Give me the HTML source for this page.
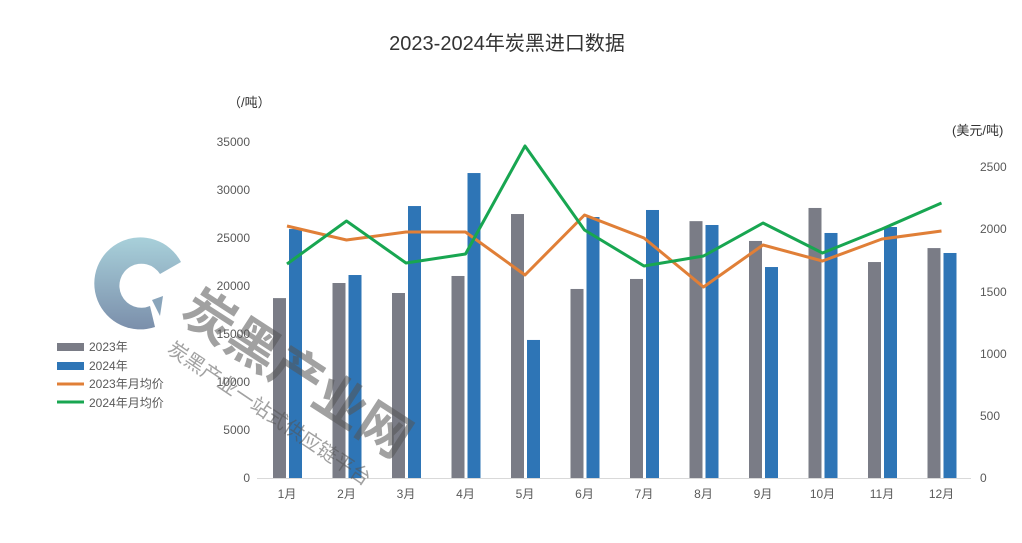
<!DOCTYPE html>
<html><head><meta charset="utf-8"><style>
body{margin:0;background:#fff;}
svg text{font-family:"Liberation Sans","Noto Sans CJK SC",sans-serif;}
</style></head><body>
<svg width="1022" height="538" viewBox="0 0 1022 538" xmlns="http://www.w3.org/2000/svg">
<rect width="1022" height="538" fill="#fff"/>
<text x="507" y="50" font-size="20" fill="#333" text-anchor="middle">2023-2024年炭黑进口数据</text>
<text x="228" y="107" font-size="13" fill="#333">（/吨）</text>
<text x="952" y="135" font-size="13" fill="#333">(美元/吨)</text>
<g font-size="12" fill="#595959" text-anchor="end">
<text x="250" y="482">0</text><text x="250" y="434">5000</text><text x="250" y="386">10000</text><text x="250" y="338">15000</text><text x="250" y="290">20000</text><text x="250" y="242">25000</text><text x="250" y="194">30000</text><text x="250" y="146">35000</text>
</g>
<g font-size="12" fill="#595959">
<text x="980" y="482">0</text><text x="980" y="420">500</text><text x="980" y="358">1000</text><text x="980" y="296">1500</text><text x="980" y="233">2000</text><text x="980" y="171">2500</text>
</g>
<line x1="257" y1="478.5" x2="971" y2="478.5" stroke="#d9d9d9"/>
<!-- logo -->
<defs><linearGradient id="gc" x1="0" y1="0" x2="0" y2="1"><stop offset="0" stop-color="#a8d0da"/><stop offset="1" stop-color="#7b8fab"/></linearGradient></defs>
<path d="M181,262 A46,46 0 1 0 155,327 L150,306 A22,22 0 1 1 160,274 Z" fill="url(#gc)"/>
<path d="M152,300 L163,296 L160,316 Z" fill="#8aa5bb"/>
<g id="bars"></g>
<g font-size="12" fill="#595959" text-anchor="middle" id="xl"></g>
<polyline id="lo" fill="none" stroke="#E07F37" stroke-width="3" stroke-linejoin="round"/>
<polyline id="lg" fill="none" stroke="#18A651" stroke-width="3" stroke-linejoin="round"/>
<!-- legend -->
<rect x="57" y="343" width="27" height="8" fill="#7a7c86"/>
<text x="89" y="351" font-size="12" fill="#595959">2023年</text>
<rect x="57" y="362" width="27" height="8" fill="#2e75b6"/>
<text x="89" y="370" font-size="12" fill="#595959">2024年</text>
<line x1="57" y1="384" x2="84" y2="384" stroke="#E07F37" stroke-width="3"/>
<text x="89" y="388" font-size="12" fill="#595959">2023年月均价</text>
<line x1="57" y1="402" x2="84" y2="402" stroke="#18A651" stroke-width="3"/>
<text x="89" y="407" font-size="12" fill="#595959">2024年月均价</text>
<!-- watermark -->
<g opacity="0.55" fill="#555">
<text x="0" y="0" font-size="52" font-weight="bold" transform="translate(178,318) rotate(33)">炭黑产业网</text>
<text x="0" y="0" font-size="20" transform="translate(166,352) rotate(34)">炭黑产业一站式供应链平台</text>
</g>
<script>
var g23=[18700,20270,19230,21000,27440,19650,20690,26700,24640,28070,22450,23900];
var g24=[25880,21100,28270,31700,14350,27130,27860,26300,21930,25470,26090,23390];
var o=[226,240,232,232,275,215,238,287,245,261,239,231];
var gr=[264,221,263,254,146,230,266,256,223,253,229,203];
var ns="http://www.w3.org/2000/svg",b=document.getElementById('bars'),xl=document.getElementById('xl');
var po=[],pg=[];
for(var i=0;i<12;i++){var cx=287+i*59.5;
function r(x,v,c){var h=v/5000*48.1,e=document.createElementNS(ns,'rect');e.setAttribute('x',x);e.setAttribute('y',478-h);e.setAttribute('width',13);e.setAttribute('height',h);e.setAttribute('fill',c);b.appendChild(e);}
r(cx-14,g23[i],'#7a7c86');r(cx+2,g24[i],'#2e75b6');
var t=document.createElementNS(ns,'text');t.setAttribute('x',cx);t.setAttribute('y',498);t.textContent=(i+1)+'月';xl.appendChild(t);
po.push(cx+','+o[i]);pg.push(cx+','+gr[i]);}
document.getElementById('lo').setAttribute('points',po.join(' '));
document.getElementById('lg').setAttribute('points',pg.join(' '));
</script>
</svg>
</body></html>
